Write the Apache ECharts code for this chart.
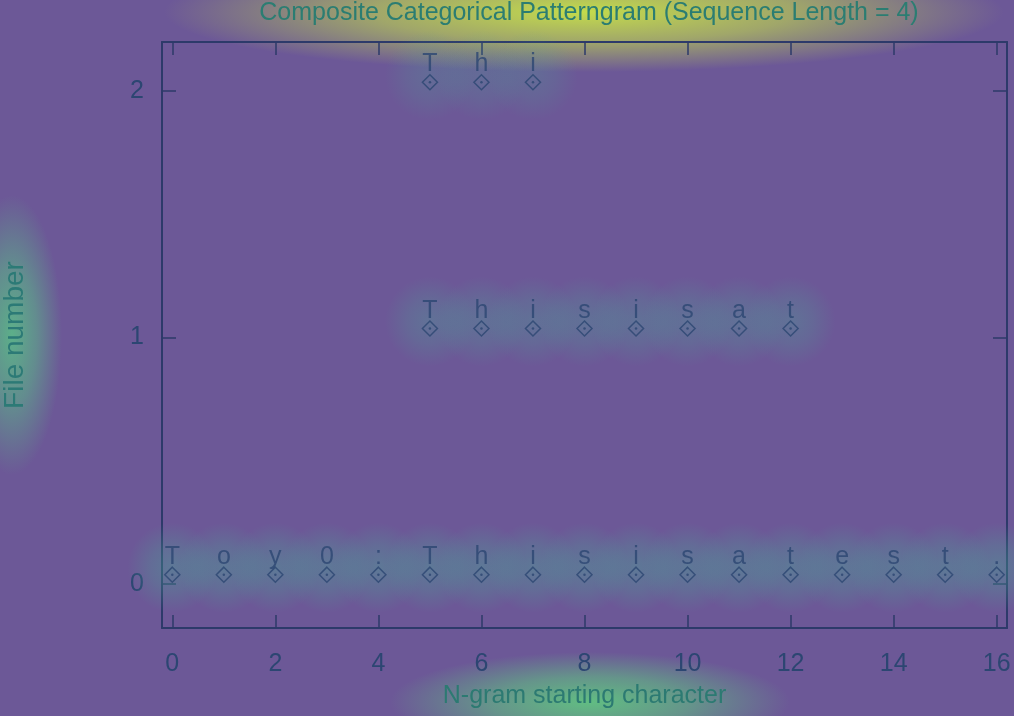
<!DOCTYPE html>
<html>
<head>
<meta charset="utf-8">
<script src="https://cdn.jsdelivr.net/npm/echarts@6/dist/echarts.min.js"></script>
<style>
html, body { margin: 0; padding: 0; background: #6c5897; }
#main { width: 1014px; height: 716px; }
</style>
</head>
<body>
<div id="main"></div>
<script>
// n-gram start positions and the character found there, one pair per file
let file0Pos = [0, 1, 2, 3, 4, 5, 6, 7, 8, 9, 10, 11, 12, 13, 14, 15, 16];
let file0Chars = ['T', 'o', 'y', '0', ':', 'T', 'h', 'i', 's', 'i', 's', 'a', 't', 'e', 's', 't', '.'];
let file1Pos = [5, 6, 7, 8, 9, 10, 11, 12];
let file1Chars = ['T', 'h', 'i', 's', 'i', 's', 'a', 't'];
let file2Pos = [5, 6, 7];
let file2Chars = ['T', 'h', 'i'];
let xTicks = [0, 2, 4, 6, 8, 10, 12, 14, 16];
let yTicks = [0, 1, 2];

let inkColor = '#2c4672';
let frameColor = '#2d3a6a';
let font = 'Liberation Sans';

function rowData(pos, chars, file) {
    return pos.map(function (p, i) {
        return { value: [p, file], name: chars[i] };
    });
}

function radial(rgb, alpha) {
    return new echarts.graphic.RadialGradient(0.5, 0.5, 0.5, [
        { offset: 0, color: 'rgba(' + rgb + ',' + alpha + ')' },
        { offset: 0.5, color: 'rgba(' + rgb + ',' + (alpha * 0.6) + ')' },
        { offset: 1, color: 'rgba(' + rgb + ',0)' }
    ]);
}

let rows = [
    { data: rowData(file0Pos, file0Chars, 0), glow: 0.5 },
    { data: rowData(file1Pos, file1Chars, 1), glow: 0.4 },
    { data: rowData(file2Pos, file2Chars, 2), glow: 0.3 }
];

let series = [];
rows.forEach(function (row) {
    series.push({
        type: 'scatter',
        data: row.data,
        symbol: 'circle',
        symbolSize: 90,
        symbolOffset: [0, -16],
        silent: true,
        z: 1,
        itemStyle: { color: radial('72,170,150', row.glow) }
    });
    series.push({
        type: 'scatter',
        data: row.data,
        symbol: 'diamond',
        symbolSize: 15,
        symbolOffset: [0, -9],
        z: 3,
        itemStyle: { color: 'rgba(0,0,0,0)', borderColor: inkColor, borderWidth: 1.5 },
        label: {
            show: true,
            formatter: '{b}',
            position: 'top',
            distance: -3,
            fontFamily: font,
            fontSize: 25,
            color: inkColor
        }
    });
    series.push({
        type: 'scatter',
        data: row.data,
        symbol: 'circle',
        symbolSize: 2.5,
        symbolOffset: [0, -9],
        z: 4,
        itemStyle: { color: inkColor }
    });
});

let myChart = echarts.init(document.getElementById('main'));
let option = {
    backgroundColor: '#6c5897',
    animation: false,
    graphic: [
        { type: 'circle', x: 584, y: 12, scaleX: 4.2, scaleY: 0.6, silent: true, z: -1,
          shape: { cx: 0, cy: 0, r: 100 }, style: { fill: radial('200,226,72', 0.95) } },
        { type: 'circle', x: 590, y: 702, scaleX: 2.0, scaleY: 0.5, silent: true, z: -1,
          shape: { cx: 0, cy: 0, r: 100 }, style: { fill: radial('96,200,128', 0.9) } },
        { type: 'circle', x: 12, y: 335, scaleX: 0.5, scaleY: 1.4, silent: true, z: -1,
          shape: { cx: 0, cy: 0, r: 100 }, style: { fill: radial('90,190,135', 0.85) } }
    ],
    title: {
        text: 'Composite Categorical Patterngram (Sequence Length = 4)',
        left: 584,
        textAlign: 'center',
        top: -4,
        textStyle: {
            fontFamily: font,
            fontSize: 25,
            fontWeight: 'normal',
            color: '#2b7d72'
        }
    },
    grid: { left: 162, right: 7, top: 42, bottom: 88, outerBoundsMode: 'none', containLabel: false },
    xAxis: [
        {
            type: 'value',
            min: -0.2,
            max: 16.2,
            position: 'bottom',
            splitLine: { show: false },
            axisLine: { show: true, onZero: false, lineStyle: { color: frameColor, width: 2 } },
            axisTick: { show: true, inside: true, length: 13, customValues: xTicks, lineStyle: { color: frameColor, width: 1.5 } },
            axisLabel: { customValues: xTicks, fontFamily: font, fontSize: 25, color: inkColor, margin: 24 },
            name: 'N-gram starting character',
            nameLocation: 'middle',
            nameGap: 56,
            nameTextStyle: { fontFamily: font, fontSize: 25, color: '#2c7a72' }
        },
        {
            type: 'value',
            min: -0.2,
            max: 16.2,
            position: 'top',
            splitLine: { show: false },
            axisLine: { show: true, onZero: false, lineStyle: { color: frameColor, width: 2 } },
            axisTick: { show: true, inside: true, length: 13, customValues: xTicks, lineStyle: { color: frameColor, width: 1.5 } },
            axisLabel: { show: false }
        }
    ],
    yAxis: [
        {
            type: 'value',
            min: -0.18,
            max: 2.2,
            position: 'left',
            splitLine: { show: false },
            axisLine: { show: true, onZero: false, lineStyle: { color: frameColor, width: 2 } },
            axisTick: { show: true, inside: true, length: 14, customValues: yTicks, lineStyle: { color: frameColor, width: 1.5 } },
            axisLabel: { customValues: yTicks, fontFamily: font, fontSize: 25, color: inkColor, margin: 18 },
            name: 'File number',
            nameLocation: 'middle',
            nameGap: 133,
            nameTextStyle: { fontFamily: font, fontSize: 28, color: '#2c7a76' }
        },
        {
            type: 'value',
            min: -0.18,
            max: 2.2,
            position: 'right',
            splitLine: { show: false },
            axisLine: { show: true, onZero: false, lineStyle: { color: frameColor, width: 2 } },
            axisTick: { show: true, inside: true, length: 14, customValues: yTicks, lineStyle: { color: frameColor, width: 1.5 } },
            axisLabel: { show: false }
        }
    ],
    series: series
};
myChart.setOption(option);
</script>
</body>
</html>
